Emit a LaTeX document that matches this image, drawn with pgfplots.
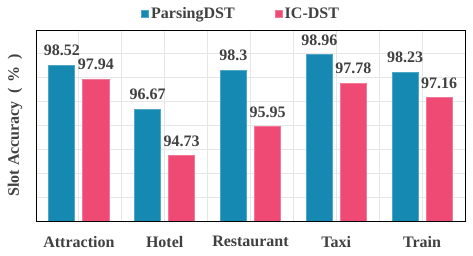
\documentclass[border=0pt]{standalone}
\usepackage{fontspec}
\setmainfont{Liberation Serif}
\usepackage{pgfplots}
\pgfplotsset{compat=1.18}
\definecolor{pblue}{HTML}{1589B1}
\definecolor{ppink}{HTML}{EF4A74}
\definecolor{txtgray}{HTML}{404040}
\definecolor{gridgray}{HTML}{E6E6E6}
\definecolor{xaxisblue}{HTML}{7090C4}
\begin{document}
\begin{tikzpicture}
\useasboundingbox (0,0) rectangle (473pt,256pt);
\begin{axis}[
  at={(36pt,35pt)}, anchor=south west,
  scale only axis,
  width=429pt, height=191pt,
  xmin=-0.5, xmax=4.5,
  ymin=92, ymax=100,
  xtick={0,1,2,3,4},
  xticklabels={Attraction,Hotel,Restaurant,Taxi,Train},
  minor xtick={0.5,1.5,2.5,3.5},
  ytick={92,93,...,100},
  yticklabels={},
  major tick length=0pt, minor tick length=0pt,
  grid=both,
  major grid style={gridgray, line width=0.9pt},
  minor grid style={gridgray, line width=0.9pt},
  axis line style={black, line width=0.8pt},
  font=\fontsize{16}{19}\selectfont\bfseries,
  xticklabel style={text=txtgray, font=\fontsize{16}{19}\selectfont\bfseries, inner sep=0pt, yshift=-15pt},
  ylabel={\fontsize{16}{19}\selectfont\rmfamily\bfseries Slot Accuracy\hspace{0.45em}(\hspace{0.4em}\%\hspace{0.4em})},
  ylabel style={text=txtgray, at={(axis description cs:-0.049,0.5)}, anchor=center},
  ybar,
  bar width=26pt,
  nodes near coords,
  every node near coord/.append style={text=txtgray, font=\fontsize{16}{19}\selectfont\bfseries, inner sep=0pt, anchor=south, yshift=9pt},
  legend style={at={(0.478,1.084)}, anchor=center, draw=none, fill=none, legend columns=2,
     font=\fontsize{16}{19}\selectfont\bfseries, text=txtgray,
     /tikz/every even column/.append style={column sep=38pt}},
  legend image code/.code={\fill[#1] (0pt,-3.6pt) rectangle (7.2pt,3.6pt);},
]
\addplot[fill=pblue, draw=pblue!75!white, line width=0.8pt, bar shift=-17pt,
  point meta=explicit symbolic] coordinates {
  (0,98.52) [98.52] (1,96.67) [96.67] (2,98.3) [98.3] (3,98.96) [98.96] (4,98.23) [98.23]};
\addlegendentry{ParsingDST}
\addplot[fill=ppink, draw=ppink!75!white, line width=0.8pt, bar shift=17pt,
  point meta=explicit symbolic] coordinates {
  (0,97.94) [97.94] (1,94.73) [94.73] (2,95.95) [95.95] (3,97.78) [97.78] (4,97.16) [97.16]};
\addlegendentry{IC-DST}
\draw[xaxisblue, line width=0.8pt] (rel axis cs:0,0) -- (rel axis cs:1,0);
\end{axis}
\end{tikzpicture}
\end{document}
